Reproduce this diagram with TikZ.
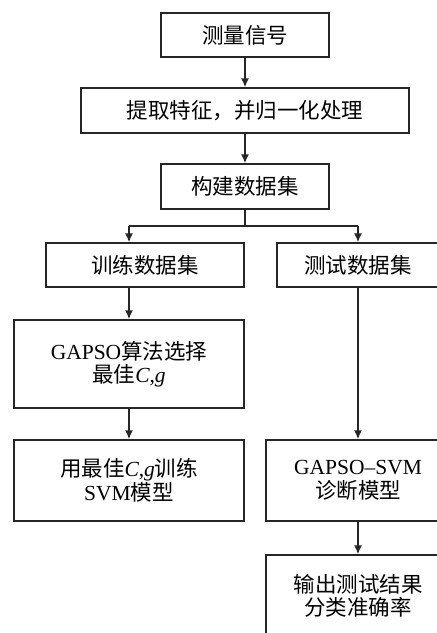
\documentclass[tikz,border=0pt]{standalone}
\usepackage{fontspec}
\setmainfont{Liberation Serif}
\newfontfamily\cjk{Noto Sans CJK SC}
\usetikzlibrary{arrows.meta}
\begin{document}
\begin{tikzpicture}[x=1pt,y=-1pt,
  box/.style={draw=black!85,line width=1.5pt,align=center,inner sep=0pt,
    font=\fontsize{21.5}{23.5}\selectfont},
  arr/.style={draw=black!85,line width=1.5pt,-{Latex[length=9pt,width=8pt]}},
  ln/.style={draw=black!85,line width=1.5pt}]
\useasboundingbox (0,0) rectangle (437,633);
\clip (0,0) rectangle (437,633);
\fill[white] (0,0) rectangle (437,633);
\node[box,minimum width=168pt,minimum height=44pt] (m) at (245,35) {{\cjk 测量信号}};
\node[box,minimum width=328pt,minimum height=45pt] (f) at (245,110.5)
  {{\cjk 提取特征，并归一化处理}};
\node[box,minimum width=168pt,minimum height=45pt] (d) at (245,186.5) {{\cjk 构建数据集}};
\node[box,minimum width=198pt,minimum height=44pt] (tr) at (145,265) {{\cjk 训练数据集}};
\node[box,minimum width=162pt,minimum height=44pt] (te) at (358,265) {{\cjk 测试数据集}};
\node[box,minimum width=230pt,minimum height=88pt] (ga) at (129,364)
  {GAPSO{\cjk 算法选择}\\{\cjk 最佳}\textit{C},\textit{g}};
\node[box,minimum width=230pt,minimum height=81pt] (sv) at (129,480.5)
  {{\cjk 用最佳}\textit{C},\textit{g}{\cjk 训练}\\SVM{\cjk 模型}};
\node[box,minimum width=184pt,minimum height=81pt] (gs) at (358,480.5)
  {GAPSO--SVM\\{\cjk 诊断模型}};
\node[box,minimum width=184pt,minimum height=82pt] (out) at (358,596)
  {{\cjk 输出测试结果}\\{\cjk 分类准确率}};
\coordinate (j) at (245,226);
\draw[arr] (m.south) -- (f.north);
\draw[arr] (f.south) -- (d.north);
\draw[ln] (d.south) -- (j);
\draw[ln] (j -| ga.north) -- (j -| te.north);
\draw[arr] (j -| ga.north) -- (tr.north -| ga.north);
\draw[arr] (j -| te.north) -- (te.north);
\draw[arr] (tr.south -| ga.north) -- (ga.north);
\draw[arr] (ga.south) -- (sv.north);
\draw[arr] (te.south) -- (gs.north);
\draw[arr] (gs.south) -- (out.north);
\end{tikzpicture}
\end{document}
